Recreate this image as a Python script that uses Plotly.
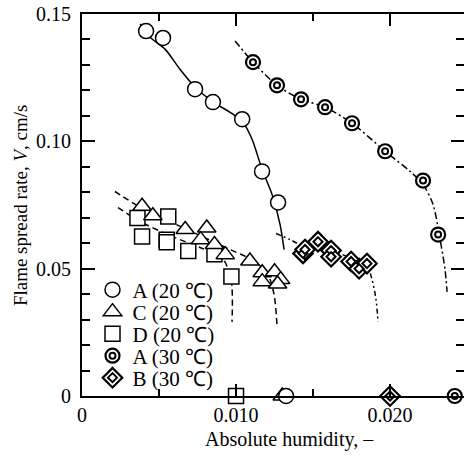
import plotly.graph_objects as go

# ---- data ----
a20_x = [0.00416, 0.00526, 0.00734, 0.00850, 0.01040, 0.01169, 0.01273, 0.01325]
a20_y = [0.1433, 0.1406, 0.1205, 0.1154, 0.1087, 0.0882, 0.0760, 0.0]

c20_x = [0.0039, 0.0046, 0.0067, 0.0081, 0.0077, 0.0086, 0.0093, 0.0109, 0.0117, 0.0117, 0.0125, 0.0129, 0.0127, 0.0130]
c20_y = [0.0745, 0.0708, 0.0654, 0.0660, 0.0614, 0.0595, 0.0555, 0.0530, 0.0484, 0.0449, 0.0488, 0.0457, 0.0440, 0.0]

d20_x = [0.0036, 0.0039, 0.0056, 0.0055, 0.0055, 0.0069, 0.0086, 0.0097, 0.0100]
d20_y = [0.0699, 0.0626, 0.0705, 0.0614, 0.0604, 0.0569, 0.0557, 0.0469, 0.0]

a30_x = [0.01110, 0.01266, 0.01422, 0.01578, 0.01753, 0.01968, 0.02214, 0.02312, 0.0242]
a30_y = [0.1311, 0.1220, 0.1165, 0.1134, 0.1071, 0.0961, 0.0846, 0.0634, 0.0]

b30_x = [0.01435, 0.01448, 0.01532, 0.01617, 0.01617, 0.01747, 0.01799, 0.01850, 0.0200]
b30_y = [0.0560, 0.0575, 0.0606, 0.0571, 0.0547, 0.0528, 0.0500, 0.0520, 0.0]

# fitted curves
a20_cx = [0.00377, 0.00442, 0.00539, 0.00636, 0.00734, 0.00851, 0.00961, 0.01045, 0.01104, 0.01169, 0.01234, 0.01286, 0.01312]
a20_cy = [0.1461, 0.1409, 0.1362, 0.1283, 0.1213, 0.1154, 0.1114, 0.1075, 0.1008, 0.0890, 0.0791, 0.0673, 0.0575]

c20_cx = [0.00214, 0.00370, 0.00571, 0.00766, 0.00961, 0.01123, 0.01208, 0.01247, 0.01266]
c20_cy = [0.0803, 0.0744, 0.0685, 0.0630, 0.0575, 0.0528, 0.0476, 0.0398, 0.0280]

d20_cx = [0.00234, 0.00377, 0.00571, 0.00766, 0.00909, 0.00968, 0.00974]
d20_cy = [0.0740, 0.0685, 0.0630, 0.0583, 0.0543, 0.0457, 0.0291]

a30_cx = [0.00994, 0.01110, 0.01266, 0.01422, 0.01578, 0.01753, 0.01968, 0.02130, 0.02214, 0.02279, 0.02325, 0.02357, 0.02370]
a30_cy = [0.1394, 0.1311, 0.1220, 0.1165, 0.1134, 0.1071, 0.0961, 0.0882, 0.0831, 0.0752, 0.0614, 0.0496, 0.0409]

b30_cx = [0.01260, 0.01351, 0.01448, 0.01532, 0.01617, 0.01740, 0.01844, 0.01883, 0.01909, 0.01922]
b30_cy = [0.0638, 0.0614, 0.0587, 0.0598, 0.0575, 0.0543, 0.0520, 0.0457, 0.0378, 0.0291]

labels = ["A (20 ℃)", "C (20 ℃)", "D (20 ℃)", "A (30 ℃)", "B (30 ℃)"]

x_tickvals = [0, 0.010, 0.020]
x_ticktext = ["0", "0.010", "0.020"]
y_tickvals = [0, 0.05, 0.10, 0.15]
y_ticktext = ["0", "0.05", "0.10", "0.15"]

SERIF = "Liberation Serif"

fig = go.Figure()

def curve(x, y, dash):
    fig.add_trace(go.Scatter(x=x, y=y, mode="lines", showlegend=False,
                             line=dict(color="black", width=1.5, dash=dash, shape="spline", smoothing=0.8),
                             hoverinfo="skip"))

curve(a20_cx, a20_cy, "solid")
curve(c20_cx, c20_cy, "6px,4px")
curve(d20_cx, d20_cy, "6px,4px")
curve(a30_cx, a30_cy, "7px,3px,2px,3px")
curve(b30_cx, b30_cy, "5px,3px,2px,3px,2px,3px")

def pts(x, y, name, symbol, size, lw, leg, show=True):
    fig.add_trace(go.Scatter(x=x, y=y, mode="markers", name=name, cliponaxis=False,
                             legend=leg, showlegend=show,
                             marker=dict(symbol=symbol, size=size, color="white",
                                         line=dict(color="black", width=lw))))

pts(d20_x, d20_y, labels[2], "square", 15, 1.5, "legend3")
pts(c20_x, c20_y, labels[1], "triangle-up", 16, 1.5, "legend2")
pts(a20_x, a20_y, labels[0], "circle", 15, 1.5, "legend")
pts(a30_x, a30_y, labels[3], "circle", 14, 2.2, "legend4")
pts(a30_x, a30_y, " ", "circle", 6, 2, "legend6")
pts(b30_x, b30_y, labels[4], "diamond", 15, 2.2, "legend5")
pts(b30_x, b30_y, " ", "diamond", 7, 2, "legend7")

# legend rows (paper y of each row centre)
row_y = [0.2775, 0.2199, 0.1623, 0.1047, 0.0471]
LX = 0.0275

def leg(y):
    return dict(x=LX, y=y, xanchor="left", yanchor="middle", bgcolor="rgba(0,0,0,0)",
                font=dict(family=SERIF, size=21), borderwidth=0)

fig.update_layout(
    width=464, height=455,
    margin=dict(l=82, r=0, t=14, b=59, autoexpand=False),
    paper_bgcolor="white", plot_bgcolor="white",
    font=dict(family=SERIF, size=20, color="black"),
    legend=leg(row_y[0]), legend2=leg(row_y[1]), legend3=leg(row_y[2]),
    legend4=leg(row_y[3]), legend5=leg(row_y[4]),
    legend6=leg(row_y[3]), legend7=leg(row_y[4]),
)

fig.update_xaxes(range=[0, 0.0248], showline=True, linecolor="black", linewidth=2, automargin=False,
                 mirror="ticks", ticks="inside", ticklen=12, tickwidth=1.5, tickcolor="black",
                 tickvals=x_tickvals, ticktext=x_ticktext, showgrid=False, zeroline=False,
                 ticklabeloverflow="allow",
                 minor=dict(tickvals=[0.005, 0.015], ticks="inside", ticklen=7, tickwidth=1.5, tickcolor="black"),
                 tickfont=dict(family=SERIF, size=20))
fig.update_yaxes(range=[0, 0.15], showline=True, linecolor="black", linewidth=2, automargin=False,
                 mirror="ticks", ticks="inside", ticklen=13, tickwidth=1.5, tickcolor="black",
                 tickvals=y_tickvals, ticktext=y_ticktext, showgrid=False, zeroline=False,
                 ticklabeloverflow="allow", ticklabelstandoff=5,
                 minor=dict(dtick=0.01, ticks="inside", ticklen=8, tickwidth=1.5, tickcolor="black"),
                 tickfont=dict(family=SERIF, size=20))

fig.add_annotation(text="Absolute humidity, –", xref="paper", yref="paper",
                   x=0.542, y=-0.115, xanchor="center", yanchor="middle", showarrow=False,
                   font=dict(family=SERIF, size=20))
fig.add_annotation(text="Flame spread rate, <i>V</i>, cm/s", xref="paper", yref="paper",
                   x=-0.162, y=0.50, xanchor="center", yanchor="middle", showarrow=False,
                   textangle=-90, font=dict(family=SERIF, size=19))

# remove the page's default body margin so the figure fills the window
fig.write_html("out.html", config={"displayModeBar": False},
               post_script="document.body.style.margin='0';document.body.style.overflow='hidden';")
